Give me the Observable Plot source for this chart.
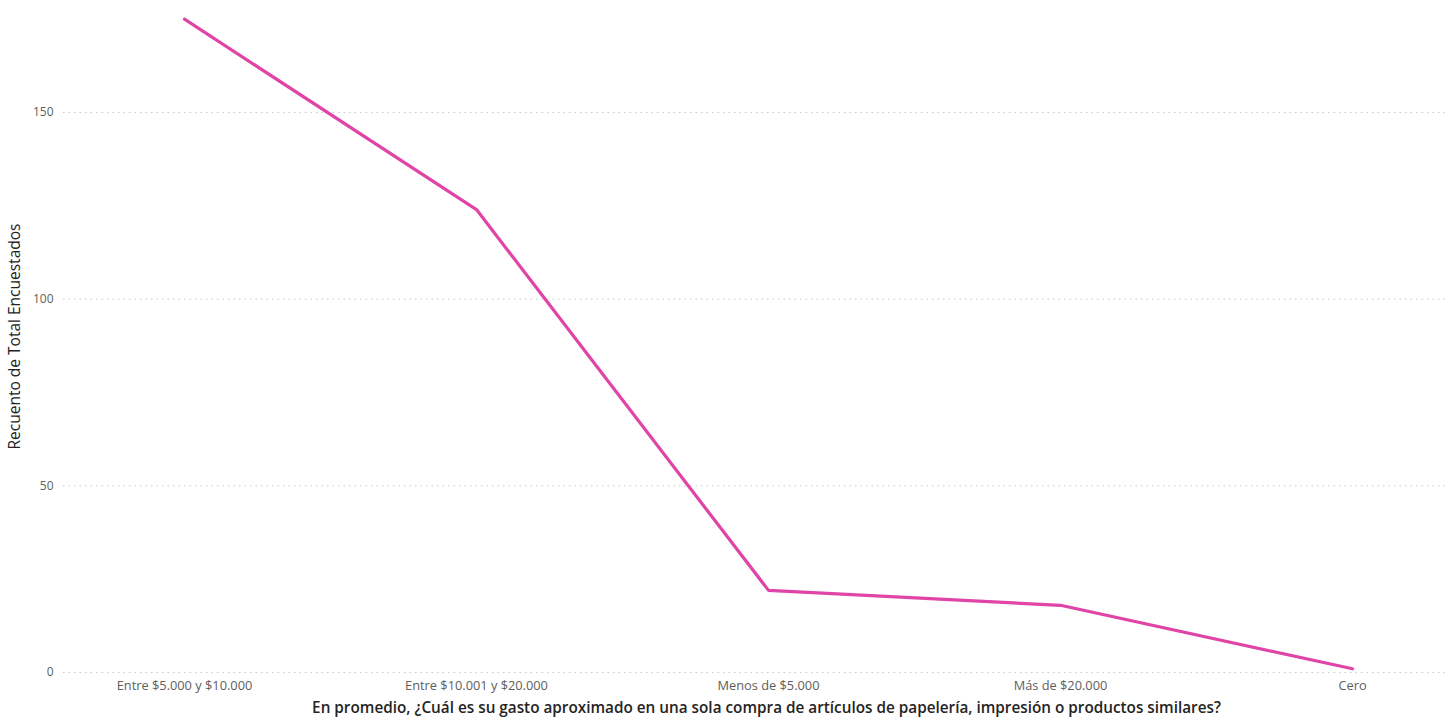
<!DOCTYPE html>
<html>
<head>
<meta charset="utf-8">
<script src="https://cdn.jsdelivr.net/npm/d3@7"></script>
<script src="https://cdn.jsdelivr.net/npm/@observablehq/plot@0.6"></script>
<style>
  html, body { margin: 0; padding: 0; background: #fff; overflow: hidden; }
  #chart svg { display: block; }
</style>
</head>
<body>
<div id="chart"></div>
<script>
const categories = ["Entre $5.000 y $10.000", "Entre $10.001 y $20.000", "Menos de $5.000", "Más de $20.000", "Cero"];
const counts = [175, 124, 22, 18, 1];
const yTicks = [0, 50, 100, 150];
const xTitle = "En promedio, ¿Cuál es su gasto aproximado en una sola compra de artículos de papelería, impresión o productos similares?";
const yTitle = "Recuento de Total Encuestados";

const data = categories.map((c, i) => ({category: c, count: counts[i]}));

const font = "'Open Sans', 'Noto Sans', sans-serif";

const chart = Plot.plot({
  width: 1453,
  height: 719,
  marginLeft: 63,
  marginRight: 6,
  marginTop: 0,
  marginBottom: 47,
  style: {fontFamily: font, background: "#fff"},
  x: {type: "point", domain: categories, padding: 0, insetLeft: 119, insetRight: 94},
  y: {domain: [0, 180]},
  marks: [
    Plot.ruleY(yTicks, {stroke: "#c8c8c8", strokeDasharray: "1.5,4", strokeWidth: 1}),
    Plot.axisY({ticks: yTicks, tickSize: 0, tickPadding: 10, fontSize: 12, color: "#605E5C", label: null}),
    Plot.axisX({tickSize: 0, tickPadding: 8, fontSize: 12.8, color: "#605E5C", label: null}),
    Plot.line(data, {x: "category", y: "count", stroke: "#E044A7", strokeWidth: 3.2, strokeLinejoin: "miter"}),
    Plot.text([xTitle], {frameAnchor: "bottom", dx: 11, dy: 36, fontSize: 15.3, fontWeight: 600, fill: "#252423", lineAnchor: "middle"}),
    Plot.text([yTitle], {frameAnchor: "left", dx: -48, rotate: -90, textAnchor: "middle", fontSize: 15.5, fill: "#252423"})
  ]
});
document.getElementById("chart").appendChild(chart);
</script>
</body>
</html>
